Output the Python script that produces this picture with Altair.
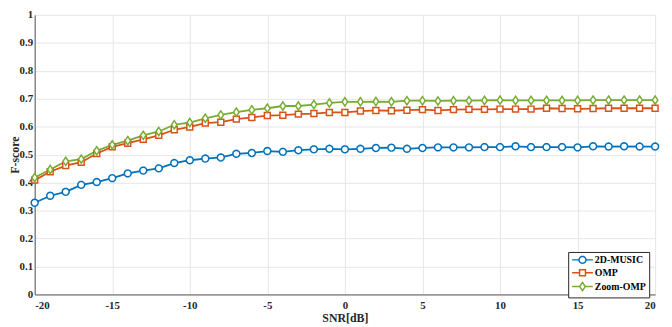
import math
import altair as alt
import pandas as pd

snr = list(range(-20, 21))
music = [0.328, 0.353, 0.367, 0.392, 0.402, 0.416, 0.433, 0.443, 0.451, 0.470,
         0.480, 0.486, 0.490, 0.503, 0.506, 0.513, 0.510, 0.516, 0.519, 0.521,
         0.519, 0.521, 0.524, 0.525, 0.521, 0.524, 0.526, 0.526, 0.526, 0.527,
         0.527, 0.530, 0.527, 0.527, 0.527, 0.526, 0.530, 0.529, 0.530, 0.529, 0.529]
omp = [0.409, 0.439, 0.461, 0.473, 0.504, 0.528, 0.541, 0.555, 0.569, 0.589,
       0.599, 0.613, 0.616, 0.627, 0.633, 0.640, 0.641, 0.645, 0.647, 0.651,
       0.651, 0.656, 0.658, 0.657, 0.659, 0.661, 0.658, 0.661, 0.662, 0.662,
       0.663, 0.663, 0.663, 0.666, 0.665, 0.664, 0.665, 0.666, 0.666, 0.666, 0.666]
zoom_omp = [0.418, 0.447, 0.476, 0.484, 0.514, 0.535, 0.550, 0.569, 0.583, 0.607,
            0.615, 0.630, 0.642, 0.652, 0.660, 0.666, 0.674, 0.674, 0.679, 0.685,
            0.689, 0.689, 0.690, 0.689, 0.693, 0.693, 0.692, 0.693, 0.693, 0.694,
            0.695, 0.694, 0.694, 0.694, 0.694, 0.694, 0.695, 0.695, 0.695, 0.695, 0.695]
series_names = ["2D-MUSIC", "OMP", "Zoom-OMP"]
colors = ["#0072BD", "#D95319", "#77AC30"]
x_ticks = [-20, -15, -10, -5, 0, 5, 10, 15, 20]
y_ticks = [round(i * 0.1, 1) for i in range(11)]

rows = []
for name, vals in zip(series_names, [music, omp, zoom_omp]):
    for s, v in zip(snr, vals):
        rows.append({"snr": s, "value": v, "series": name})
df = pd.DataFrame(rows)


def poly_circle(cx, r, n=16):
    pts = [(cx + r * math.cos(2 * math.pi * k / n), r * math.sin(2 * math.pi * k / n)) for k in range(n)]
    return "M" + "L".join(f"{x:.3f},{y:.3f}" for x, y in pts) + "Z"


# chart markers (size 49 -> 3.5 px per unit)
marker_paths = [
    poly_circle(0, 1.0, 20),
    "M-0.857,-0.857H0.857V0.857H-0.857Z",
    "M0,-1.2L0.8,0L0,1.2L-0.8,0Z",
]
# legend symbols (size 64 -> 4 px per unit): line with marker
legend_paths = [
    "M-1,0H0.75M2.5,0H4.25" + poly_circle(1.625, 0.875, 20),
    "M-1,0H0.875M2.375,0H4.25M0.875,-0.75H2.375V0.75H0.875Z",
    "M-1,0H0.925M2.325,0H4.25M1.625,-1.05L2.325,0L1.625,1.05L0.925,0Z",
]

FONT = "Liberation Serif"

base = alt.Chart(df).encode(
    x=alt.X("snr:Q", scale=alt.Scale(domain=[-20, 20], nice=False),
            axis=alt.Axis(values=x_ticks, title="SNR[dB]", labelExpr="'' + datum.value",
                          titleY=18, titleBaseline="top")),
    y=alt.Y("value:Q", scale=alt.Scale(domain=[0, 1], nice=False),
            axis=alt.Axis(values=y_ticks, format=".1~f", title="F-score",
                          titleX=-16, titleBaseline="alphabetic", titleAngle=270)),
)

lines = base.mark_line(strokeWidth=1.8).encode(
    stroke=alt.Stroke("series:N", scale=alt.Scale(domain=series_names, range=colors), legend=None)
)

points = base.mark_point(filled=True, fill="white", size=49, strokeWidth=1.5, opacity=1).encode(
    stroke=alt.Stroke("series:N", scale=alt.Scale(domain=series_names, range=colors), legend=None),
    shape=alt.Shape("series:N", scale=alt.Scale(domain=series_names, range=marker_paths), legend=None),
)

leg = alt.Legend(title=None, orient="none", legendX=540, legendY=240)
legend_layer = base.transform_filter("datum.snr > 1000").transform_calculate(
    lg="datum.series"
).mark_point(filled=True, fill="white", size=64, strokeWidth=1.5, opacity=1).encode(
    stroke=alt.Stroke("lg:N", scale=alt.Scale(domain=series_names, range=colors), legend=leg),
    shape=alt.Shape("lg:N", scale=alt.Scale(domain=series_names, range=legend_paths), legend=leg),
)

chart = alt.layer(lines, points, legend_layer).resolve_scale(
    stroke="independent", shape="independent"
).properties(
    width=628, height=283,
    padding={"left": 27, "top": 5, "right": 9, "bottom": 31},
    autosize=alt.AutoSizeParams(type="none"),
).configure_view(stroke=None).configure_axis(
    labelFont=FONT, labelFontSize=11, labelFontWeight="bold", labelColor="#262626",
    titleFont=FONT, titleFontSize=12, titleFontWeight="bold", titleColor="#262626",
    gridColor="#e6e6e6", gridWidth=1, domainColor="#555555", domainWidth=1,
    ticks=False, labelPadding=2,
).configure_axisX(labelPadding=5).configure_legend(
    padding=3, strokeColor="#262626", fillColor="white", cornerRadius=0,
    labelFont=FONT, labelFontSize=10, labelFontWeight="bold", labelColor="#000000",
    symbolSize=64, symbolStrokeWidth=1.5, symbolFillColor="white", labelOffset=14, rowPadding=0,
)

chart.save("out.html", embed_options={"renderer": "svg", "actions": False})
